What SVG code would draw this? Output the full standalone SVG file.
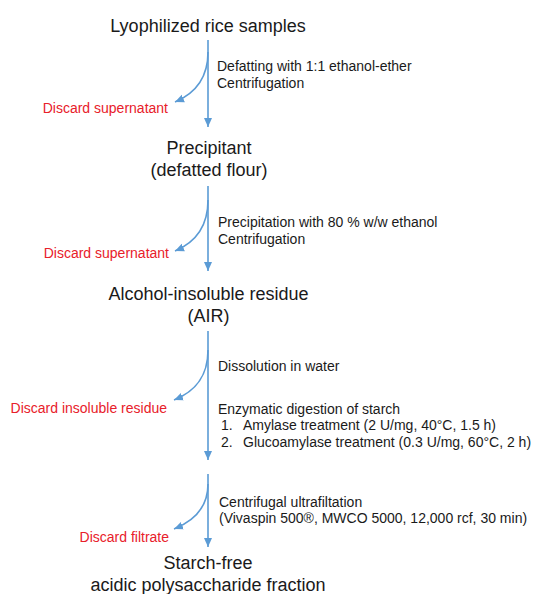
<svg xmlns="http://www.w3.org/2000/svg" width="533" height="594" viewBox="0 0 533 594">
<style>
.bg{fill:#ffffff}
.main{font-family:"Liberation Sans",Arial,sans-serif;font-size:18px;fill:#1a1a1a;text-anchor:middle}
.step{font-family:"Liberation Sans",Arial,sans-serif;font-size:14px;fill:#1a1a1a}
.discard{font-family:"Liberation Sans",Arial,sans-serif;font-size:14px;fill:#e8202a;text-anchor:end}
.conn{fill:none;stroke:#5b9bd5;stroke-width:1.6;marker-end:url(#ah)}
</style>
<defs>
<marker id="ah" markerUnits="userSpaceOnUse" markerWidth="10" markerHeight="10" viewBox="0 0 10 10" refX="9" refY="5" orient="auto">
<path d="M0,1 L9,5 L0,9 Z" fill="#5b9bd5"/>
</marker>
</defs>
<rect class="bg" x="0" y="0" width="533" height="594"/>
<g id="connectors">
<path class="conn" d="M208,40 L208,127"/>
<path class="conn" d="M208,52 C208,80 194,94 175,102"/>
<path class="conn" d="M208,186 L208,271"/>
<path class="conn" d="M208,200 C208,228 194,243 175,251"/>
<path class="conn" d="M208,331 L208,460"/>
<path class="conn" d="M208,350 C208,378 194,392 174,400"/>
<path class="conn" d="M208,474 L208,547"/>
<path class="conn" d="M208,484 C208,508 194,521 174,529"/>
</g>
<g id="node-lyophilized">
<text class="main" x="208" y="32">Lyophilized rice samples</text>
</g>
<g id="step-defatting">
<text class="step" x="217" y="71">Defatting with 1:1 ethanol-ether</text>
<text class="step" x="217" y="88">Centrifugation</text>
</g>
<g id="discard-1">
<text class="discard" x="168" y="113">Discard supernatant</text>
</g>
<g id="node-precipitant">
<text class="main" x="209" y="154">Precipitant</text>
<text class="main" x="209" y="176">(defatted flour)</text>
</g>
<g id="step-precipitation">
<text class="step" x="218" y="227">Precipitation with 80 % w/w ethanol</text>
<text class="step" x="218" y="244">Centrifugation</text>
</g>
<g id="discard-2">
<text class="discard" x="169" y="258">Discard supernatant</text>
</g>
<g id="node-air">
<text class="main" x="208.5" y="300">Alcohol-insoluble residue</text>
<text class="main" x="208.5" y="322">(AIR)</text>
</g>
<g id="step-dissolution">
<text class="step" x="218" y="371">Dissolution in water</text>
</g>
<g id="discard-3">
<text class="discard" x="167" y="413">Discard insoluble residue</text>
</g>
<g id="step-enzymatic">
<text class="step" x="218" y="414">Enzymatic digestion of starch</text>
<text class="step" x="221" y="430">1.</text>
<text class="step" x="243" y="430">Amylase treatment (2 U/mg, 40°C, 1.5 h)</text>
<text class="step" x="221" y="447">2.</text>
<text class="step" x="243" y="447">Glucoamylase treatment (0.3 U/mg, 60°C, 2 h)</text>
</g>
<g id="step-ultrafiltration">
<text class="step" x="219" y="507">Centrifugal ultrafiltation</text>
<text class="step" x="219" y="523">(Vivaspin 500®, MWCO 5000, 12,000 rcf, 30 min)</text>
</g>
<g id="discard-4">
<text class="discard" x="169" y="542">Discard filtrate</text>
</g>
<g id="node-final">
<text class="main" x="208" y="569">Starch-free</text>
<text class="main" x="208" y="591">acidic polysaccharide fraction</text>
</g>
</svg>
